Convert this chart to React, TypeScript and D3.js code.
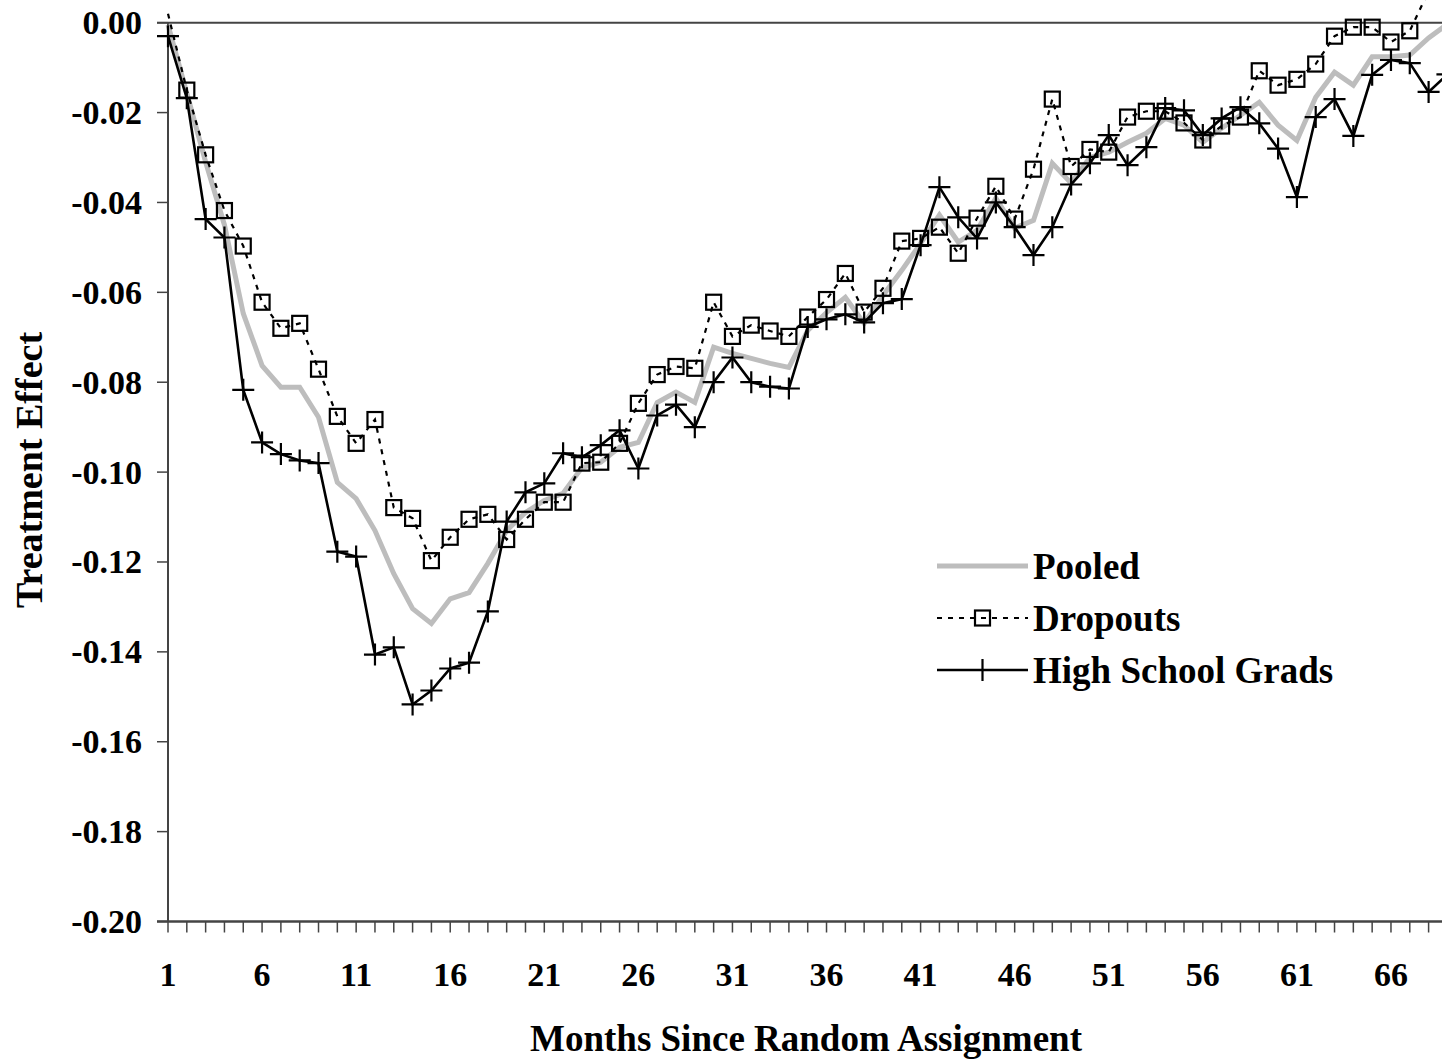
import React from 'react';
import * as d3 from 'd3';

// months since random assignment (chart is cropped at the right edge)
const months = d3.range(1, 70);

const pooled = [
  -0.0005, -0.0157, -0.031, -0.045, -0.0647, -0.0763, -0.0811, -0.0811, -0.0878, -0.1023,
  -0.1059, -0.113, -0.1226, -0.1304, -0.1337, -0.1282, -0.1268, -0.1203, -0.113, -0.109,
  -0.1063, -0.1047, -0.099, -0.0978, -0.0945, -0.0934, -0.0845, -0.0822, -0.0845, -0.0722,
  -0.0736, -0.0747, -0.0758, -0.0767, -0.0685, -0.0645, -0.0611, -0.0669, -0.0607, -0.0551,
  -0.0491, -0.0428, -0.0488, -0.0462, -0.039, -0.0457, -0.044, -0.0313, -0.0357, -0.03,
  -0.0288, -0.0266, -0.0246, -0.0213, -0.0228, -0.0266, -0.0235, -0.0206, -0.0177, -0.0228,
  -0.0262, -0.0166, -0.011, -0.0139, -0.0076, -0.0076, -0.0072, -0.0034, -0.0003,
];

const dropouts = [
  0.002, -0.015, -0.0294, -0.0418, -0.0497, -0.0622, -0.068, -0.0669, -0.0771, -0.0876,
  -0.0936, -0.0883, -0.1079, -0.1103, -0.1197, -0.1145, -0.1105, -0.1094, -0.115, -0.1105,
  -0.1067, -0.1067, -0.098, -0.0978, -0.0936, -0.0847, -0.0783, -0.0765, -0.0769, -0.0622,
  -0.0698, -0.0673, -0.0686, -0.0698, -0.0655, -0.0616, -0.0558, -0.0644, -0.0591, -0.0486,
  -0.048, -0.0455, -0.0513, -0.0435, -0.0364, -0.0437, -0.0326, -0.017, -0.032, -0.0282,
  -0.0288, -0.021, -0.0197, -0.0197, -0.0223, -0.0261, -0.023, -0.021, -0.0107, -0.0139,
  -0.0126, -0.0092, -0.003, -0.001, -0.001, -0.0043, -0.0018, 0.007,
];

const hsGrads = [
  -0.003, -0.0168, -0.0437, -0.0478, -0.0817, -0.0934, -0.096, -0.0974, -0.098, -0.1177,
  -0.1188, -0.1406, -0.139, -0.1517, -0.1486, -0.1437, -0.1424, -0.131, -0.111, -0.1045,
  -0.1025, -0.0958, -0.0967, -0.094, -0.0907, -0.0992, -0.0874, -0.085, -0.09, -0.08,
  -0.0745, -0.08, -0.081, -0.0814, -0.0677, -0.066, -0.0649, -0.0667, -0.0624, -0.0615,
  -0.0495, -0.0366, -0.0433, -0.048, -0.04, -0.0455, -0.0517, -0.0455, -0.036, -0.0313,
  -0.025, -0.0317, -0.0277, -0.019, -0.0195, -0.025, -0.0213, -0.0188, -0.0224, -0.028,
  -0.0388, -0.021, -0.017, -0.0252, -0.0116, -0.0083, -0.009, -0.0154, -0.0115,
];

const yTicks = d3.range(0, 11).map(i => -i * 0.02);
const xTickMonths = d3.range(1, 69);
const xLabelMonths = d3.range(1, 67, 5);

const FONT = '"Liberation Serif", "DejaVu Serif", serif';

const App = () => {
  const width = 1442;
  const height = 1061;

  const x = d3.scaleLinear().domain([1, 68]).range([168, 1428.6]);
  const y = d3.scaleLinear().domain([-0.2, 0]).range([921.5, 22.7]);

  const line = d3.line<[number, number]>()
    .x(d => x(d[0]))
    .y(d => y(d[1]));

  const pts = (vals: number[]) => vals.map((v, i) => [months[i], v] as [number, number]);

  const plus = (cx: number, cy: number, k: string) => (
    <path key={k} d={`M${cx - 11},${cy}H${cx + 11}M${cx},${cy - 11}V${cy + 11}`}
      stroke="#000" strokeWidth={2.2} fill="none" />
  );
  const square = (cx: number, cy: number, k: string) => (
    <rect key={k} x={cx - 7.5} y={cy - 7.5} width={15} height={15}
      fill="none" stroke="#000" strokeWidth={2.2} />
  );

  const axisColor = '#444';

  return (
    <div style={{ position: 'absolute', left: 0, top: 0 }}>
      <svg width={width} height={height} style={{ display: 'block', background: '#fff' }}
        fontFamily={FONT} fontWeight="bold">
        {/* y axis */}
        <line x1={x(1)} x2={x(1)} y1={y(0)} y2={y(-0.2)} stroke={axisColor} strokeWidth={2} />
        {yTicks.map(t => (
          <g key={t}>
            <line x1={157} x2={x(1)} y1={y(t)} y2={y(t)} stroke={axisColor} strokeWidth={1.5} />
            <text x={142} y={y(t)} textAnchor="end" dominantBaseline="central" fontSize={34}>
              {t === 0 ? '0.00' : d3.format('.2f')(t).replace('−', '-')}
            </text>
          </g>
        ))}
        {/* zero line across the plot */}
        <line x1={157} x2={width} y1={y(0)} y2={y(0)} stroke={axisColor} strokeWidth={2} />
        {/* x axis */}
        <line x1={157} x2={width} y1={y(-0.2)} y2={y(-0.2)} stroke={axisColor} strokeWidth={2.5} />
        {xTickMonths.map(m => (
          <line key={m} x1={x(m)} x2={x(m)} y1={y(-0.2)} y2={y(-0.2) + 11}
            stroke={axisColor} strokeWidth={1.5} />
        ))}
        {xLabelMonths.map(m => (
          <text key={m} x={x(m)} y={986} textAnchor="middle" fontSize={34}>{m}</text>
        ))}

        {/* series */}
        <path d={line(pts(pooled)) || ''} fill="none" stroke="#bdbdbd" strokeWidth={5} />
        <path d={line(pts(dropouts)) || ''} fill="none" stroke="#000" strokeWidth={2.2}
          strokeDasharray="5,6" />
        <path d={line(pts(hsGrads)) || ''} fill="none" stroke="#000" strokeWidth={2.6} />
        {/* markers above the axis maximum are clipped by the plot area */}
        {dropouts.map((v, i) => (v <= 0 ? square(x(months[i]), y(v), `d${i}`) : null))}
        {hsGrads.map((v, i) => plus(x(months[i]), y(v), `h${i}`))}

        {/* axis titles */}
        <text x={806} y={1051} textAnchor="middle" fontSize={37}>Months Since Random Assignment</text>
        <text transform="translate(42,470) rotate(-90)" textAnchor="middle" fontSize={38}>
          Treatment Effect
        </text>

        {/* legend */}
        <g>
          <line x1={937} x2={1028} y1={566} y2={566} stroke="#bdbdbd" strokeWidth={5} />
          <text x={1033} y={566} dominantBaseline="central" fontSize={37}>Pooled</text>
          <line x1={937} x2={1028} y1={618} y2={618} stroke="#000" strokeWidth={2.2}
            strokeDasharray="5,6" />
          {square(982.5, 618, 'lg-sq')}
          <text x={1033} y={618} dominantBaseline="central" fontSize={37}>Dropouts</text>
          <line x1={937} x2={1028} y1={670} y2={670} stroke="#000" strokeWidth={2.6} />
          {plus(982.5, 670, 'lg-pl')}
          <text x={1033} y={670} dominantBaseline="central" fontSize={37}>High School Grads</text>
        </g>
      </svg>
    </div>
  );
};

export default App;
